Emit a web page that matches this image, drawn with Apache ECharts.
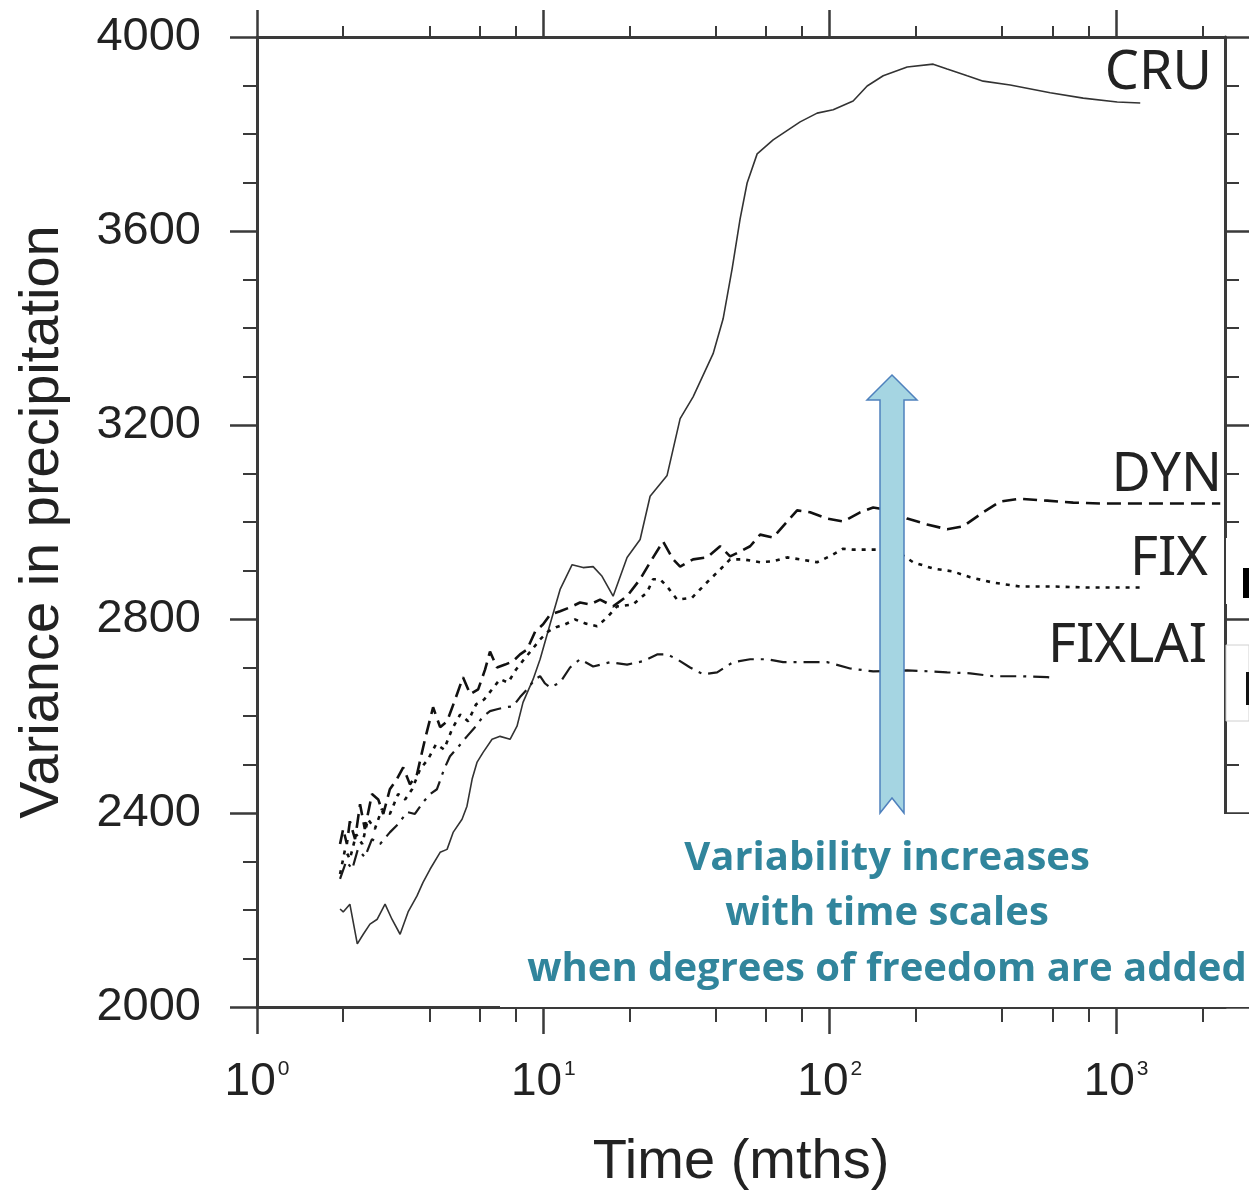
<!DOCTYPE html>
<html><head><meta charset="utf-8">
<script src="https://cdn.jsdelivr.net/npm/echarts@6/dist/echarts.min.js"></script>
<style>html,body{margin:0;padding:0;background:#fff}#c{width:1249px;height:1196px}</style>
</head><body><div id="c"></div>
<script>
// ---- data (time in months, variance in precipitation) ----
const cruMonths = [1.95,2.00,2.11,2.24,2.35,2.48,2.63,2.80,2.96,3.16,3.37,3.62,3.80,4.02,4.36,4.61,4.84,5.20,5.41,5.64,5.87,6.16,6.62,7.06,7.65,8.09,8.49,9.21,9.74,10.55,11.44,12.60,13.76,14.92,16.03,17.52,19.60,21.77,23.59,27.04,30.03,33.33,39.15,42.43,45.61,48.64,51.46,55.78,63.43,78.81,90.36,102.8,120.7,135.1,153.7,186.4,229.7,257.0,302.0,343.4,426.7,588.5,767.4,1009,1214];
const cruVar = [2202,2196,2212,2130,2150,2171,2181,2212,2181,2150,2196,2229,2257,2284,2319,2325,2360,2387,2414,2470,2505,2525,2552,2558,2552,2579,2628,2676,2717,2789,2861,2912,2906,2908,2888,2847,2927,2964,3053,3096,3213,3258,3347,3419,3522,3625,3699,3759,3788,3825,3843,3850,3868,3899,3920,3938,3944,3934,3920,3909,3901,3885,3874,3866,3864];

const dynMonths = [1.95,2.00,2.06,2.11,2.20,2.29,2.38,2.52,2.65,2.76,2.91,3.08,3.24,3.42,3.62,3.86,4.12,4.36,4.61,4.92,5.24,5.55,5.92,6.26,6.51,6.89,7.35,7.84,8.29,8.77,9.36,9.98,10.55,11.44,12.39,13.43,14.56,15.78,17.52,19.60,21.77,23.59,26.18,28.38,30.03,33.33,37.32,41.42,44.88,48.64,52.72,57.14,63.43,71.00,76.93,85.40,97.92,111.4,127.7,141.8,162.5,186.4,218.9,257.0,292.4,343.4,393.6,462.4,574.4,708.3,901.5,1185,1545,2310];
const dynVar = [2336,2367,2336,2383,2346,2418,2367,2439,2428,2398,2449,2470,2494,2459,2480,2552,2618,2577,2589,2634,2680,2645,2655,2696,2733,2700,2706,2713,2727,2737,2774,2789,2809,2816,2824,2834,2830,2840,2826,2847,2882,2917,2960,2923,2908,2923,2927,2950,2929,2939,2950,2974,2968,3001,3024,3020,3007,3001,3020,3030,3024,3007,2995,2985,2991,3020,3042,3048,3044,3040,3038,3038,3038,3038];

const fixMonths = [1.95,2.03,2.11,2.22,2.33,2.44,2.58,2.73,2.91,3.11,3.29,3.48,3.71,3.96,4.22,4.50,4.80,5.12,5.46,5.82,6.21,6.62,7.06,7.53,8.03,8.56,9.13,9.74,10.38,11.08,11.91,12.90,13.98,15.40,16.69,18.09,20.57,23.02,24.16,25.56,27.04,29.31,33.06,35.26,38.21,41.42,44.88,49.83,57.14,63.43,71.00,78.81,90.36,102.8,111.4,120.7,146.4,176.2,195.6,229.7,269.8,309.4,372.2,462.4,602.9,792.5,1033,1244];
const fixVar = [2274,2325,2305,2356,2336,2387,2367,2408,2398,2439,2428,2449,2490,2511,2542,2531,2573,2603,2589,2624,2634,2655,2676,2669,2696,2717,2737,2758,2774,2783,2789,2799,2791,2785,2803,2826,2830,2855,2882,2882,2867,2840,2844,2861,2882,2902,2923,2923,2917,2919,2927,2923,2917,2933,2945,2943,2943,2935,2917,2904,2898,2886,2875,2867,2867,2865,2865,2865];

const fixlaiMonths = [1.95,2.05,2.15,2.25,2.38,2.52,2.69,2.91,3.11,3.34,3.56,3.80,4.02,4.25,4.50,4.72,5.04,5.41,5.77,6.16,6.51,6.89,7.35,7.84,8.29,8.77,9.36,9.74,10.14,10.55,11.44,12.39,13.43,14.92,17.10,19.60,22.30,24.95,27.04,29.31,32.54,36.13,40.44,45.98,52.72,60.44,68.73,78.81,97.92,117.8,141.8,186.4,224.3,257.0,309.4,372.2,462.4,574.4,612.7];
const fixlaiVar = [2264,2301,2284,2325,2309,2346,2336,2360,2377,2402,2398,2422,2439,2449,2490,2517,2536,2558,2577,2599,2610,2614,2618,2620,2639,2655,2676,2682,2667,2659,2669,2700,2717,2702,2711,2706,2713,2727,2727,2717,2700,2686,2690,2711,2717,2717,2711,2711,2711,2698,2692,2694,2692,2690,2688,2682,2682,2680,2678];

const xMajorTicks = [1, 10, 100, 1000];
const xMinorTicks = [2,4,6,8,20,40,60,80,200,400,600,800,2000];
const xMin = 1, xMax = 2400;
const yMin = 2000, yMax = 4000, yStep = 400;
const seriesNames = ['CRU', 'DYN', 'FIX', 'FIXLAI'];
const xTitle = 'Time (mths)';
const yTitle = 'Variance in precipitation';
const noteLines = ['Variability increases', 'with time scales', 'when degrees of freedom are added'];

// ---- build ----
const zip = (a, b) => a.map((v, i) => [v, b[i]]);
const ink = '#222';
const axisCol = '#3a3a3a';
const lineStyleAxis = {color: axisCol, width: 3};
const tickMajor = {color: axisCol, width: 2.5};
const tickMinor = {color: axisCol, width: 2};

function xAx(extra) {
  return Object.assign({
    type: 'log', logBase: 10, min: xMin, max: xMax,
    splitLine: {show: false}, minorSplitLine: {show: false},
    axisLine: {show: true, onZero: false, lineStyle: lineStyleAxis},
    axisLabel: {show: false}
  }, extra);
}

const chart = echarts.init(document.getElementById('c'), null, {renderer: 'canvas'});
const gridRect = {left: 257, right: 24, top: 37, bottom: 188, containLabel: false};

const option = {
  backgroundColor: '#ffffff',
  animation: false,
  grid: [Object.assign({}, gridRect), Object.assign({}, gridRect)],
  xAxis: [
    xAx({gridIndex: 0, position: 'bottom',
      axisTick: {show: true, customValues: xMajorTicks, length: 27, lineStyle: tickMajor},
      axisLabel: {show: true, customValues: xMajorTicks, margin: 52,
        formatter: v => '{b|10}{s|' + Math.round(Math.log10(v)) + '}',
        rich: {
          b: {fontSize: 46, fontFamily: 'Liberation Sans', color: ink},
          s: {fontSize: 21, fontFamily: 'Liberation Sans', color: ink, verticalAlign: 'top', padding: [0, 0, 0, 2]}
        }},
      name: xTitle, nameLocation: 'middle', nameGap: 128,
      nameTextStyle: {fontSize: 56, fontFamily: 'Liberation Sans', color: ink}
    }),
    xAx({gridIndex: 0, position: 'top',
      axisTick: {show: true, customValues: xMajorTicks, length: 27, lineStyle: tickMajor}}),
    xAx({gridIndex: 1, position: 'bottom', axisLine: {show: false, onZero: false},
      axisTick: {show: true, customValues: xMinorTicks, length: 14, lineStyle: tickMinor}}),
    xAx({gridIndex: 1, position: 'top', axisLine: {show: false, onZero: false},
      axisTick: {show: true, customValues: xMinorTicks, length: 11, lineStyle: tickMinor}})
  ],
  yAxis: [
    {gridIndex: 0, type: 'value', position: 'left', min: yMin, max: yMax, interval: yStep,
      axisLine: {show: true, onZero: false, lineStyle: lineStyleAxis},
      axisTick: {show: true, length: 27, lineStyle: tickMajor},
      minorTick: {show: true, splitNumber: 4, length: 14, lineStyle: tickMinor},
      splitLine: {show: false}, minorSplitLine: {show: false},
      axisLabel: {margin: 56, fontSize: 47, fontFamily: 'Liberation Sans', color: ink, formatter: v => String(v)},
      name: yTitle, nameLocation: 'middle', nameGap: 186, nameRotate: 90,
      nameTextStyle: {fontSize: 56, fontFamily: 'Liberation Sans', color: ink}
    },
    {gridIndex: 0, type: 'value', position: 'right', min: yMin, max: yMax, interval: yStep,
      axisLine: {show: true, onZero: false, lineStyle: lineStyleAxis},
      axisTick: {show: true, length: 27, lineStyle: tickMajor},
      minorTick: {show: true, splitNumber: 4, length: 14, lineStyle: tickMinor},
      splitLine: {show: false}, minorSplitLine: {show: false},
      axisLabel: {show: false}
    },
    {gridIndex: 1, type: 'value', min: yMin, max: yMax, show: false},
  ],
  series: [
    {name: seriesNames[0], type: 'line', xAxisIndex: 0, yAxisIndex: 0, data: zip(cruMonths, cruVar),
      showSymbol: false, lineStyle: {color: '#333', width: 1.6, type: 'solid'}, z: 5},
    {name: seriesNames[1], type: 'line', xAxisIndex: 0, yAxisIndex: 0, data: zip(dynMonths, dynVar),
      showSymbol: false, lineStyle: {color: '#111', width: 2.6, type: [14, 7]}, z: 5},
    {name: seriesNames[2], type: 'line', xAxisIndex: 0, yAxisIndex: 0, data: zip(fixMonths, fixVar),
      showSymbol: false, lineStyle: {color: '#111', width: 2.6, type: [4, 6]}, z: 5},
    {name: seriesNames[3], type: 'line', xAxisIndex: 0, yAxisIndex: 0, data: zip(fixlaiMonths, fixlaiVar),
      showSymbol: false, lineStyle: {color: '#1a1a1a', width: 2.2, type: [16, 7, 3, 7]}, z: 5}
  ],
  graphic: {elements: [
    // series name labels
    {type: 'text', x: 1212, y: 74, z: 60, style: {text: seriesNames[0], font: '54px "Noto Sans"', fill: ink, align: 'right', verticalAlign: 'middle'}},
    {type: 'text', x: 1222, y: 476, z: 60, style: {text: seriesNames[1], font: '54px "Noto Sans"', fill: ink, align: 'right', verticalAlign: 'middle'}},
    {type: 'text', x: 1208, y: 560, z: 60, style: {text: seriesNames[2], font: '54px "Noto Sans"', fill: ink, align: 'right', verticalAlign: 'middle'}},
    {type: 'text', x: 1207, y: 647, z: 60, style: {text: seriesNames[3], font: '54px "Noto Sans"', fill: ink, align: 'right', verticalAlign: 'middle'}},
    // cut-off boxes at right edge
    {type: 'rect', z: 60, shape: {x: 1226, y: 538, width: 23, height: 66}, style: {fill: '#fff'}},
    {type: 'rect', z: 61, shape: {x: 1243, y: 568, width: 6, height: 30}, style: {fill: '#000'}},
    {type: 'rect', z: 60, shape: {x: 1226, y: 645, width: 23, height: 76}, style: {fill: '#fff', stroke: '#d0d0d0', lineWidth: 1}},
    {type: 'rect', z: 61, shape: {x: 1246, y: 672, width: 3, height: 33}, style: {fill: '#111'}},
    // annotation box + text
    {type: 'rect', z: 70, shape: {x: 500, y: 814, width: 749, height: 193}, style: {fill: '#fff'}},
    {type: 'text', x: 887, y: 859, z: 72, style: {text: noteLines[0], font: 'bold 40px "Open Sans"', fill: '#31859C', align: 'center', verticalAlign: 'middle'}},
    {type: 'text', x: 887, y: 914, z: 72, style: {text: noteLines[1], font: 'bold 40px "Open Sans"', fill: '#31859C', align: 'center', verticalAlign: 'middle'}},
    {type: 'text', x: 887, y: 970, z: 72, style: {text: noteLines[2], font: 'bold 40px "Open Sans"', fill: '#31859C', align: 'center', verticalAlign: 'middle'}},
    // arrow
    {type: 'polygon', z: 75, shape: {points: [[892,375],[917,400],[904,400],[904,813],[892,798],[880,813],[880,400],[867,400]]},
      style: {fill: '#A5D5E2', stroke: '#4F81BD', lineWidth: 1.5}}
  ]}
};
chart.setOption(option);
</script>
</body></html>
